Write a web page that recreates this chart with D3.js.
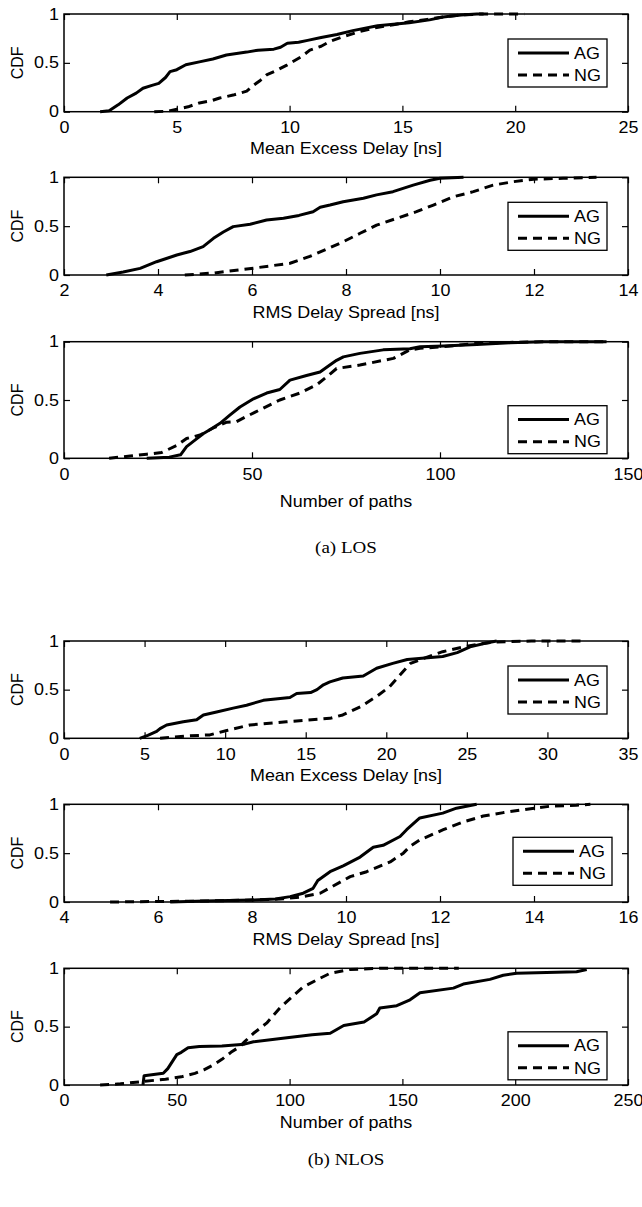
<!DOCTYPE html>
<html>
<head>
<meta charset="utf-8">
<script src="https://cdn.jsdelivr.net/npm/d3@7"></script>
<style>
  html, body { margin: 0; padding: 0; background: #fff; }
  svg { display: block; }
  text { font-family: "Liberation Sans", Arial, Helvetica, sans-serif; fill: #000; }
  .cap { font-family: "Liberation Serif", "Times New Roman", serif; }
</style>
</head>
<body>
<svg id="fig" width="642" height="1207"></svg>
<script>
// ---- LOS: mean excess delay [ns] ----
const losMedTicks = [0, 5, 10, 15, 20, 25];
const losMedAgX = [1.6, 2.0, 2.4, 2.8, 3.2, 3.5, 3.9, 4.2, 4.5, 4.7, 5.0, 5.4, 6.0, 6.6, 7.2, 8.1, 8.6, 9.3, 9.6, 9.9, 10.4, 10.8, 11.4, 12.1, 12.8, 13.9, 15.3, 16.2, 16.8, 17.6, 18.3, 18.6];
const losMedAgF = [0, 0.01, 0.07, 0.14, 0.19, 0.24, 0.27, 0.29, 0.35, 0.41, 0.43, 0.48, 0.51, 0.54, 0.58, 0.61, 0.63, 0.64, 0.66, 0.70, 0.71, 0.73, 0.76, 0.79, 0.83, 0.88, 0.91, 0.94, 0.97, 0.99, 1.0, 1.0];
const losMedNgX = [4.0, 4.6, 5.1, 5.5, 6.0, 6.5, 6.9, 7.5, 8.1, 8.4, 8.7, 9.0, 9.4, 9.9, 10.5, 10.9, 11.4, 11.8, 12.4, 13.1, 13.8, 14.6, 15.3, 16.1, 16.8, 17.6, 18.5, 19.5, 20.4];
const losMedNgF = [0, 0.005, 0.03, 0.05, 0.09, 0.11, 0.14, 0.17, 0.21, 0.27, 0.32, 0.38, 0.42, 0.48, 0.56, 0.63, 0.67, 0.72, 0.77, 0.82, 0.86, 0.89, 0.92, 0.945, 0.97, 0.99, 1.0, 1.0, 1.0];

// ---- LOS: RMS delay spread [ns] ----
const losRmsTicks = [2, 4, 6, 8, 10, 12, 14];
const losRmsAgX = [2.9, 3.26, 3.62, 3.97, 4.4, 4.68, 4.96, 5.18, 5.39, 5.6, 5.96, 6.31, 6.67, 7.0, 7.3, 7.45, 7.66, 7.94, 8.37, 8.65, 9.0, 9.43, 9.79, 10.0, 10.5];
const losRmsAgF = [0, 0.03, 0.068, 0.136, 0.205, 0.24, 0.29, 0.375, 0.44, 0.495, 0.52, 0.563, 0.58, 0.61, 0.648, 0.693, 0.716, 0.75, 0.785, 0.82, 0.853, 0.92, 0.97, 0.99, 1.0];
const losRmsNgX = [4.57, 5.18, 6.03, 6.81, 7.23, 7.66, 7.94, 8.3, 8.65, 9.08, 9.5, 9.86, 10.28, 10.71, 11.13, 11.56, 11.99, 12.62, 13.33];
const losRmsNgF = [0, 0.02, 0.07, 0.12, 0.19, 0.28, 0.34, 0.427, 0.51, 0.58, 0.648, 0.716, 0.8, 0.853, 0.92, 0.955, 0.98, 0.99, 1.0];

// ---- LOS: number of paths ----
const losPathTicks = [0, 50, 100, 150];
const losPathAgX = [22, 28, 31, 32.6, 35, 37, 39, 41.5, 44.1, 46.8, 50.4, 53.9, 57.4, 60.1, 64.5, 68.1, 70.7, 72.5, 74.3, 78.7, 84.9, 92, 94.7, 100.9, 109.8, 118.6, 127.5, 144.3];
const losPathAgF = [0, 0.01, 0.03, 0.1, 0.16, 0.21, 0.25, 0.3, 0.37, 0.44, 0.51, 0.56, 0.59, 0.67, 0.71, 0.74, 0.8, 0.84, 0.87, 0.9, 0.93, 0.94, 0.957, 0.963, 0.977, 0.99, 1.0, 1.0];
const losPathNgX = [12, 17.6, 22, 26, 30, 32.6, 36.2, 39.7, 43.3, 45.9, 48.6, 53, 57.4, 62.8, 67.2, 69.9, 72.5, 78.7, 87.6, 92, 94.7, 100.8, 109.8, 118.6, 127.5, 144];
const losPathNgF = [0, 0.02, 0.035, 0.05, 0.11, 0.17, 0.2, 0.26, 0.31, 0.315, 0.36, 0.43, 0.5, 0.56, 0.63, 0.7, 0.77, 0.8, 0.857, 0.93, 0.943, 0.957, 0.986, 0.994, 1.0, 1.0];

// ---- NLOS: mean excess delay [ns] ----
const nlosMedTicks = [0, 5, 10, 15, 20, 25, 30, 35];
const nlosMedAgX = [4.7, 5.2, 5.75, 5.96, 6.37, 7.4, 8.23, 8.65, 9.47, 10.5, 11.33, 12.37, 14.02, 14.44, 15.3, 15.7, 16.1, 16.5, 17.3, 18.57, 19.4, 20.4, 21.3, 23.5, 24.4, 25.2, 26.2, 26.85];
const nlosMedAgF = [0, 0.03, 0.07, 0.1, 0.137, 0.17, 0.19, 0.24, 0.27, 0.31, 0.34, 0.39, 0.42, 0.46, 0.47, 0.5, 0.55, 0.58, 0.62, 0.64, 0.72, 0.77, 0.81, 0.84, 0.88, 0.94, 0.98, 1.0];
const nlosMedNgX = [5.96, 7.6, 9.05, 10.1, 11.54, 13.8, 16.5, 17.3, 18.4, 19.4, 20.2, 20.85, 21.5, 22.3, 23.5, 24.8, 26.0, 26.85, 29, 32.2];
const nlosMedNgF = [0, 0.024, 0.035, 0.08, 0.137, 0.17, 0.205, 0.24, 0.325, 0.43, 0.53, 0.65, 0.77, 0.82, 0.89, 0.94, 0.975, 0.99, 1.0, 1.0];

// ---- NLOS: RMS delay spread [ns] ----
const nlosRmsTicks = [4, 6, 8, 10, 12, 14, 16];
const nlosRmsAgX = [6.26, 7.0, 8.0, 8.5, 8.81, 9.09, 9.3, 9.4, 9.66, 9.94, 10.3, 10.58, 10.79, 11.15, 11.29, 11.57, 12.06, 12.35, 12.78];
const nlosRmsAgF = [0, 0.01, 0.02, 0.03, 0.055, 0.09, 0.14, 0.22, 0.31, 0.37, 0.46, 0.56, 0.58, 0.67, 0.74, 0.86, 0.91, 0.96, 1.0];
const nlosRmsNgX = [4.98, 6.0, 7.0, 8.0, 8.6, 9.02, 9.45, 10.09, 10.44, 10.94, 11.22, 11.36, 11.57, 12.07, 12.5, 12.92, 13.35, 13.85, 14.34, 14.9, 15.2];
const nlosRmsNgF = [0, 0.005, 0.01, 0.02, 0.03, 0.05, 0.09, 0.26, 0.31, 0.41, 0.5, 0.57, 0.635, 0.74, 0.82, 0.88, 0.915, 0.95, 0.98, 0.99, 1.0];

// ---- NLOS: number of paths ----
const nlosPathTicks = [0, 50, 100, 150, 200, 250];
const nlosPathAgX = [35, 35.5, 44, 46, 48, 50, 52, 55, 60, 70, 80, 84, 97, 110, 118, 124, 133, 138.6, 140, 147.5, 153.4, 157.8, 172.6, 177, 188.8, 194.7, 200.6, 227.2, 231.7];
const nlosPathAgF = [0, 0.08, 0.1, 0.14, 0.2, 0.26, 0.28, 0.32, 0.33, 0.335, 0.35, 0.37, 0.4, 0.43, 0.443, 0.51, 0.54, 0.61, 0.66, 0.68, 0.73, 0.79, 0.83, 0.865, 0.905, 0.94, 0.957, 0.97, 0.99];
const nlosPathNgX = [16, 25, 35, 45, 52, 58, 62, 66, 70, 74, 78, 80, 84, 89.8, 95.7, 100.2, 106, 112, 117.9, 126.8, 140, 175];
const nlosPathNgF = [0, 0.01, 0.03, 0.05, 0.07, 0.1, 0.13, 0.17, 0.22, 0.28, 0.33, 0.37, 0.443, 0.53, 0.66, 0.74, 0.84, 0.9, 0.957, 0.99, 1.0, 1.0];

const yTicks = [0, 0.5, 1];
const seriesNames = ["AG", "NG"];
const captions = ["(a) LOS", "(b) NLOS"];

// ---- layout ----
const svg = d3.select("#fig");
const left = 64, right = 628;
const fs = 16, sx = 1.12;           // font size and horizontal text stretch
const stretch = `scale(${sx},1)`;

const panels = [
  { top: 14,    h: 97.7,  dom: [0, 25],  ticks: losMedTicks,   label: "Mean Excess Delay [ns]", lab: 42.5,
    ag: [losMedAgX, losMedAgF],     ng: [losMedNgX, losMedNgF],     leg: { x: 508, dy: 25, h: 48 } },
  { top: 177.3, h: 97.7,  dom: [2, 14],  ticks: losRmsTicks,   label: "RMS Delay Spread [ns]", lab: 42.5,
    ag: [losRmsAgX, losRmsAgF],     ng: [losRmsNgX, losRmsNgF],     leg: { x: 508, dy: 25, h: 48 } },
  { top: 341.7, h: 116.6, dom: [0, 150], ticks: losPathTicks,  label: "Number of paths", lab: 49,
    ag: [losPathAgX, losPathAgF],   ng: [losPathNgX, losPathNgF],   leg: { x: 508, dy: 64, h: 48 } },
  { top: 641,   h: 97.3,  dom: [0, 35],  ticks: nlosMedTicks,  label: "Mean Excess Delay [ns]", lab: 42.5,
    ag: [nlosMedAgX, nlosMedAgF],   ng: [nlosMedNgX, nlosMedNgF],   leg: { x: 508, dy: 25, h: 48 } },
  { top: 804.3, h: 97.7,  dom: [4, 16],  ticks: nlosRmsTicks,  label: "RMS Delay Spread [ns]", lab: 42.5,
    ag: [nlosRmsAgX, nlosRmsAgF],   ng: [nlosRmsNgX, nlosRmsNgF],   leg: { x: 513, dy: 33, h: 48 } },
  { top: 968.3, h: 116.7, dom: [0, 250], ticks: nlosPathTicks, label: "Number of paths", lab: 42.5,
    ag: [nlosPathAgX, nlosPathAgF], ng: [nlosPathNgX, nlosPathNgF], leg: { x: 508, dy: 63.5, h: 48 } }
];

const dash = "9,6";

panels.forEach(p => {
  const bottom = p.top + p.h;
  const x = d3.scaleLinear().domain(p.dom).range([left, right]);
  const y = d3.scaleLinear().domain([0, 1]).range([bottom, p.top]);
  const g = svg.append("g");

  // CDF curves
  const line = d3.line().x(d => x(d[0])).y(d => y(d[1]));
  const pts = s => s[0].map((v, i) => [v, s[1][i]]);
  g.append("path").attr("d", line(pts(p.ag)))
    .attr("fill", "none").attr("stroke", "#000").attr("stroke-width", 3)
    .attr("stroke-linejoin", "round");
  g.append("path").attr("d", line(pts(p.ng)))
    .attr("fill", "none").attr("stroke", "#000").attr("stroke-width", 3)
    .attr("stroke-dasharray", dash).attr("stroke-linejoin", "round");

  // axes with inward ticks on all four sides
  const tick = 6;
  const xb = g.append("g").attr("transform", `translate(0,${bottom})`)
    .call(d3.axisBottom(x).tickValues(p.ticks).tickSizeInner(-tick).tickSizeOuter(0).tickPadding(10).tickFormat(d3.format("~g")));
  const xt = g.append("g").attr("transform", `translate(0,${p.top})`)
    .call(d3.axisTop(x).tickValues(p.ticks).tickSizeInner(-tick).tickSizeOuter(0).tickFormat(""));
  const yl = g.append("g").attr("transform", `translate(${left},0)`)
    .call(d3.axisLeft(y).tickValues(yTicks).tickSizeInner(-tick).tickSizeOuter(0).tickPadding(4.5).tickFormat(d3.format("~g")));
  const yr = g.append("g").attr("transform", `translate(${right},0)`)
    .call(d3.axisRight(y).tickValues(yTicks).tickSizeInner(-tick).tickSizeOuter(0).tickFormat(""));
  [xb, xt, yl, yr].forEach(a => {
    a.select(".domain").remove();
    a.selectAll("line").attr("stroke", "#000").attr("stroke-width", 1.2);
    a.selectAll("text").attr("font-size", fs).attr("font-family", null).attr("transform", stretch);
  });

  // frame
  g.append("rect").attr("x", left).attr("y", p.top).attr("width", right - left).attr("height", p.h)
    .attr("fill", "none").attr("stroke", "#000").attr("stroke-width", 1.5);

  // axis titles
  g.append("text").attr("transform", `translate(${(left + right) / 2},${bottom + p.lab}) ${stretch}`)
    .attr("text-anchor", "middle").attr("font-size", fs).text(p.label);
  g.append("text").attr("transform", `translate(23,${p.top + p.h / 2}) rotate(-90)`)
    .attr("text-anchor", "middle").attr("font-size", fs).text("CDF");

  // legend
  const lx = p.leg.x, ly = p.top + p.leg.dy, lw = 99, lh = p.leg.h;
  const lg = g.append("g");
  lg.append("rect").attr("x", lx).attr("y", ly).attr("width", lw).attr("height", lh)
    .attr("fill", "#fff").attr("stroke", "#000").attr("stroke-width", 1.3);
  seriesNames.forEach((name, i) => {
    const ry = ly + lh * (i === 0 ? 0.29 : 0.75);
    lg.append("line").attr("x1", lx + 10).attr("x2", lx + 61).attr("y1", ry).attr("y2", ry)
      .attr("stroke", "#000").attr("stroke-width", 3)
      .attr("stroke-dasharray", i === 0 ? null : dash);
    lg.append("text").attr("transform", `translate(${lx + 66},${ry + 5.7}) ${stretch}`)
      .attr("font-size", fs).text(name);
  });
});

// sub-figure captions
svg.append("text").attr("class", "cap").attr("transform", `translate(346,553) ${stretch}`)
  .attr("text-anchor", "middle").attr("font-size", 17).text(captions[0]);
svg.append("text").attr("class", "cap").attr("transform", `translate(346,1165) ${stretch}`)
  .attr("text-anchor", "middle").attr("font-size", 17).text(captions[1]);
</script>
</body>
</html>
